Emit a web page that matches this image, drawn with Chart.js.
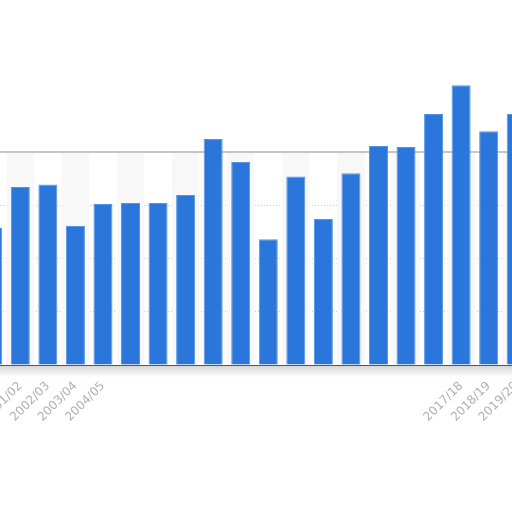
<!DOCTYPE html>
<html>
<head>
<meta charset="utf-8">
<script src="https://cdn.jsdelivr.net/npm/chart.js@4"></script>
<style>
html,body{margin:0;padding:0;background:#fff;overflow:hidden;}
#wrap{position:relative;width:512px;height:512px;overflow:hidden;}
#c{position:absolute;left:-21px;top:0;}
</style>
</head>
<body>
<div id="wrap"><canvas id="c" width="551" height="512"></canvas></div>
<script>
const categories = ['2000/01','2001/02','2002/03','2003/04','2004/05','2005/06','2006/07','2007/08','2008/09','2009/10',
                    '2010/11','2011/12','2012/13','2013/14','2014/15','2015/16','2016/17','2017/18','2018/19','2019/20'];
const values = [25.7,33.4,33.9,26.1,30.2,30.4,30.4,31.9,42.4,38.1,23.6,35.4,27.4,36.0,41.1,40.9,47.1,52.5,43.9,47.1];
const shownLabels = [1,2,3,4,17,18,19];
const gridValues = [10,20,30];
const boxTop = 40;

const decor = {
  id:'decor',
  beforeDatasetsDraw(chart){
    const {ctx, chartArea:a, scales:{x,y}} = chart;
    const yTop = y.getPixelForValue(boxTop), yBot = y.getPixelForValue(0);
    ctx.save();
    ctx.fillStyle = '#f8f8f8';
    for(let i=0;i<categories.length;i++){
      if(i%2===1){
        const c = x.getPixelForValue(i), w = 27.5;
        ctx.fillRect(c-w/2, yTop, w, yBot-yTop);
      }
    }
    ctx.strokeStyle = '#c6c6c6';
    ctx.lineWidth = 2;
    ctx.beginPath(); ctx.moveTo(a.left, yTop); ctx.lineTo(a.right, yTop); ctx.stroke();
    ctx.restore();
  },
  afterDraw(chart){
    const {ctx, chartArea:a, scales:{y}} = chart;
    const yb = y.getPixelForValue(0);
    const g = ctx.createLinearGradient(0, yb+1, 0, yb+12);
    g.addColorStop(0,'rgba(0,0,0,0.16)');
    g.addColorStop(1,'rgba(0,0,0,0)');
    ctx.save();
    ctx.fillStyle = g;
    ctx.fillRect(a.left, yb+1, a.right-a.left, 11);
    ctx.restore();
  }
};

new Chart(document.getElementById('c'), {
  type:'bar',
  data:{labels:categories, datasets:[{data:values, backgroundColor:'#2b76db', borderColor:'#5593e6', borderWidth:1,
    barPercentage:0.69, categoryPercentage:1}]},
  options:{
    responsive:false, animation:false, devicePixelRatio:1,
    layout:{padding:{top:72,left:0,right:0,bottom:0}},
    plugins:{legend:{display:false}, tooltip:{enabled:false}},
    scales:{
      x:{
        offset:true,
        grid:{display:false},
        border:{display:true,color:'#555',width:1},
        ticks:{minRotation:45,maxRotation:45,autoSkip:false,padding:6,color:'#b0b0b0',
               font:{family:'DejaVu Sans',size:12},
               callback:(v,i)=> shownLabels.includes(i) ? categories[i] : ''},
        afterFit:s=>{s.height=147; s.paddingLeft=0; s.paddingRight=0;}
      },
      y:{
        min:0,max:55,
        ticks:{display:false,stepSize:10},
        border:{display:false,dash:[1,2]},
        grid:{drawTicks:false,color:c=> gridValues.includes(c.tick.value) ? '#c8c8c8' : 'rgba(0,0,0,0)'},
        afterFit:s=>{s.width=0;}
      }
    }
  },
  plugins:[decor]
});
</script>
</body>
</html>
